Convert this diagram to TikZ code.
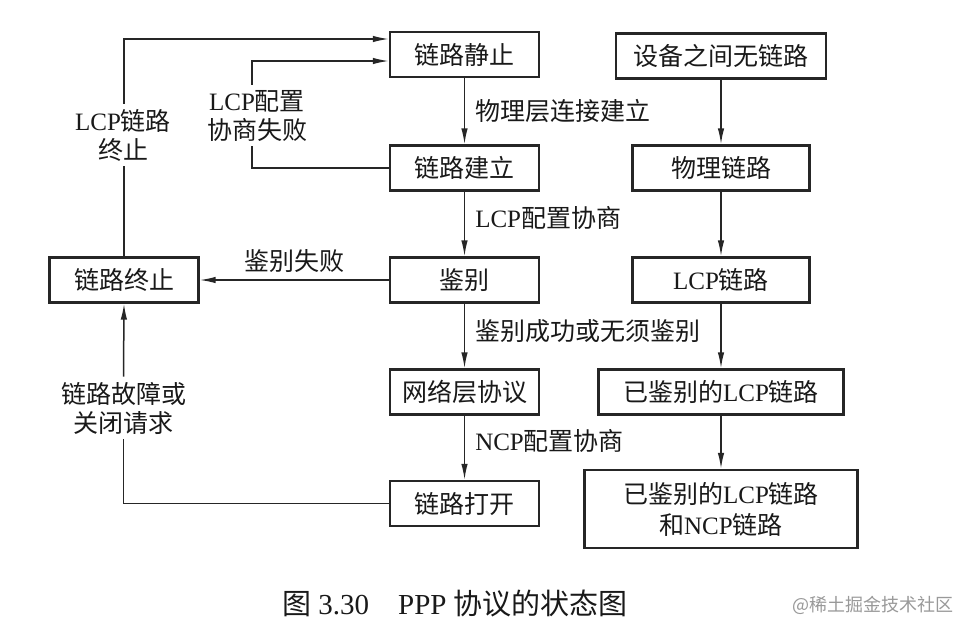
\documentclass[tikz,border=0pt]{standalone}
\usepackage{fontspec}
\setmainfont{Noto Sans CJK SC}
\newfontfamily\latin{Liberation Serif}
\usetikzlibrary{arrows.meta}
\tikzset{
    state/.style={draw=black!85, line width=2.4pt, minimum height=45pt, inner sep=0pt, text=black!90, font=\fontsize{25}{31}\selectfont},
    edge/.style={draw=black!85, line width=1.5pt, -{Latex[length=16pt,width=6.5pt]}},
    plain/.style={draw=black!85, line width=1.5pt},
    lbl/.style={text=black!90, font=\fontsize{25}{31}\selectfont, inner sep=3pt},
    gaplbl/.style={text=black!90, font=\fontsize{25}{29}\selectfont, align=center, inner sep=5pt},
}
\begin{document}
\begin{tikzpicture}[x=1pt, y=-1pt]
        \useasboundingbox[fill=white] (0,0) rectangle (973,633);

        \node[state, minimum width=149pt] (jingzhi) at (464.5,54.5) {链路静止};
        \node[state, minimum width=149pt] (jianli) at (464.5,168) {链路建立};
        \node[state, minimum width=149pt] (jianbie) at (464.5,280) {鉴别};
        \node[state, minimum width=149pt] (wangluo) at (464.5,392) {网络层协议};
        \node[state, minimum width=149pt] (dakai) at (464.5,503.5) {链路打开};
        \node[state, minimum width=149pt] (zhongzhi) at (124,280) {链路终止};

        \node[state, minimum width=210pt] (wulianlu) at (721,56) {设备之间无链路};
        \node[state, minimum width=177pt] (wuli) at (721,168) {物理链路};
        \node[state, minimum width=177pt] (lcp) at (721,280) {{\latin LCP}链路};
        \node[state, minimum width=245pt] (yijb) at (721,392) {已鉴别的{\latin LCP}链路};
        \node[state, minimum width=273pt, minimum height=78pt, align=center] (yijbncp) at (721,509) {已鉴别的{\latin LCP}链路\\和{\latin NCP}链路};

        \node[gaplbl] (lcpend) at (123,135) {{\latin LCP}链路\\终止};
        \node[gaplbl] (cfgfail) at (257,115.5) {{\latin LCP}配置\\协商失败};
        \node[gaplbl] (fault) at (123.5,408) {链路故障或\\关闭请求};

        \draw[edge] (jingzhi) -- (jianli) node[lbl, right=7pt, pos=0.5] {物理层连接建立};
        \draw[edge] (jianli) -- (jianbie) node[lbl, right=7pt, pos=0.4] {{\latin LCP}配置协商};
        \draw[edge] (jianbie) -- (wangluo) node[lbl, right=7pt, pos=0.42] {鉴别成功或无须鉴别};
        \draw[edge] (wangluo) -- (dakai) node[lbl, right=7pt, pos=0.4] {{\latin NCP}配置协商};
        \draw[edge] (jianbie) -- (zhongzhi) node[lbl, above=4pt, midway] {鉴别失败};

        \draw[plain] (zhongzhi.north) -- (zhongzhi.north |- lcpend.south);
        \draw[edge] (zhongzhi.north |- lcpend.north) |- ([yshift=15.5pt]jingzhi.west);
        \draw[plain] (jianli.west) -| ([xshift=-5pt]cfgfail.south);
        \draw[edge] ([xshift=-5pt]cfgfail.north) |- ([yshift=-6.5pt]jingzhi.west);
        \draw[plain] (dakai.west) -| (fault.south);
        \draw[edge] (fault.north) -- (zhongzhi.south);

        \draw[edge] (wulianlu) -- (wuli);
        \draw[edge] (wuli) -- (lcp);
        \draw[edge] (lcp) -- (yijb);
        \draw[edge] (yijb) -- (yijbncp);

        \node[text=black!90, font=\fontsize{29}{33}\selectfont] (caption) at (455,604) {图 {\latin 3.30}\quad{\latin PPP} 协议的状态图};
        \node[text=black!40, font=\fontsize{18}{20}\selectfont] (mark) at (873,605) {@稀土掘金技术社区};
    \end{tikzpicture}
\end{document}
